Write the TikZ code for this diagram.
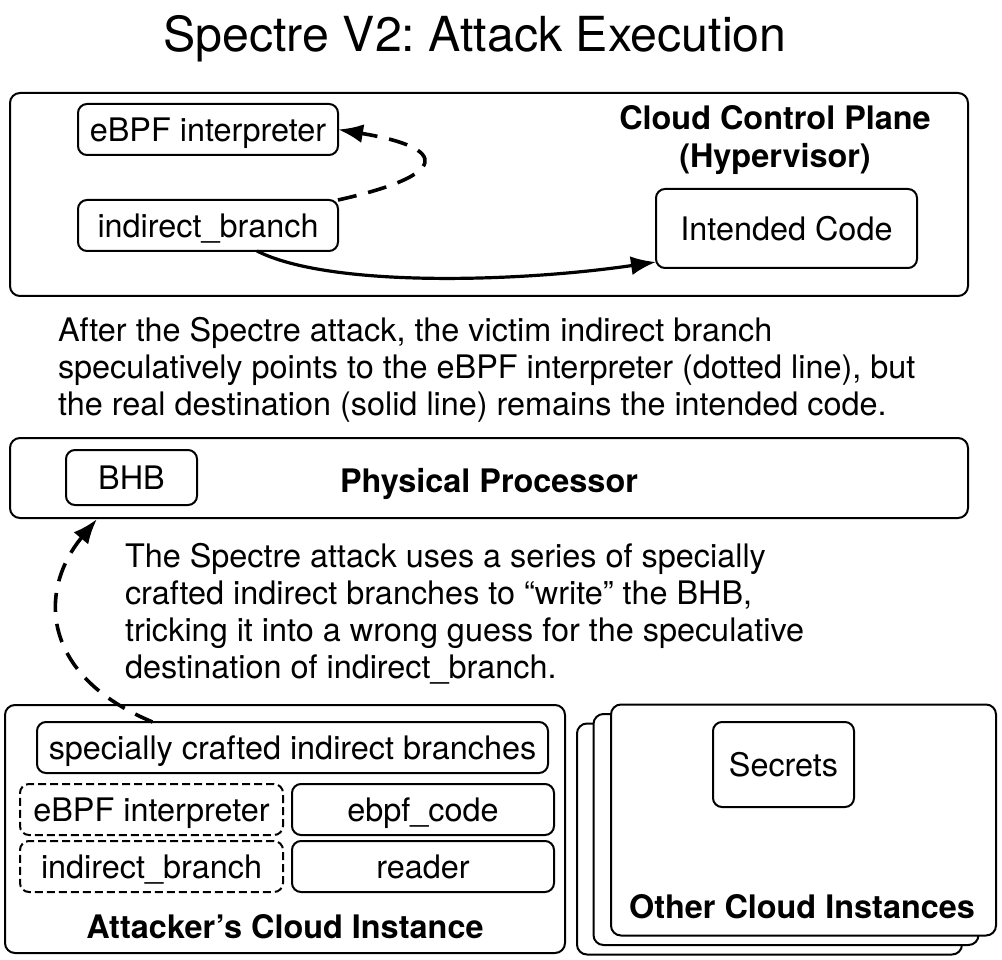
\documentclass[tikz,border=0pt]{standalone}
\usepackage{fontspec}
\setmainfont{TeX Gyre Heros}
\usetikzlibrary{arrows.meta,calc}
\frenchspacing
\begin{document}
\begin{tikzpicture}[x=1pt,y=-1pt,
  every node/.style={font=\fontsize{32.4}{37}\selectfont, inner sep=0pt, outer sep=0pt},
  frame/.style={draw, line width=2pt, rounded corners=10pt},
  item/.style={draw, line width=2pt, rounded corners=9pt, text height=23.2pt, text depth=0pt, align=center},
  ghost/.style={item, dash pattern=on 8pt off 4pt},
  lbl/.style={font=\fontsize{32.4}{38}\selectfont\bfseries, align=center},
  para/.style={align=left, anchor=base west},
  arr/.style={line width=3.2pt, -{Latex[length=25pt,width=19pt]}},
  darr/.style={arr, line width=3.6pt, dash pattern=on 19pt off 12pt},
]
\useasboundingbox (0,0) rectangle (1002,960);

\node[font=\fontsize{48.3}{50}\selectfont, anchor=base] (title) at (475,52) {Spectre V2: Attack Execution};

% Cloud control plane
\node[frame, minimum width=958pt, minimum height=203pt] (cloud) at (489,194.5) {};
\node[lbl, anchor=base] (cloudlbl) at (775,168) {Cloud Control Plane\\(Hypervisor)};
\node[item, minimum width=260pt, minimum height=51pt] (ebpfA) at (208,129.5) {eBPF interpreter};
\node[item, minimum width=260pt, minimum height=51pt] (ibA) at (208,225.5) {indirect\_branch};
\node[item, minimum width=261pt, minimum height=79pt] (intended) at (786.5,228.5) {Intended Code};

\coordinate (ibAsouth) at ($(ibA.south)+(49,0)$);
\coordinate (intIn) at ($(intended.west)+(0,33.5)$);
\draw[darr] (ibA.north east) .. controls (450,175) and (450,148) .. (ebpfA.east);
\draw[arr] (ibAsouth) .. controls (330,288) and (520,282) .. (intIn);

\node[para] (para1) at (58,415) {After the Spectre attack, the victim indirect branch\\speculatively points to the eBPF interpreter (dotted line), but\\the real destination (solid line) remains the intended code.};

% Physical processor
\node[frame, minimum width=958pt, minimum height=80pt] (proc) at (489,478) {};
\node[lbl, anchor=base] (proclbl) at (489,492) {Physical Processor};
\node[item, minimum width=131pt, minimum height=55pt] (bhb) at (131.5,477.5) {BHB};

\node[para] (para2) at (125,678) {The Spectre attack uses a series of specially\\crafted indirect branches to “write” the BHB,\\tricking it into a wrong guess for the speculative\\destination of indirect\_branch.};

% Attacker instance
\node[frame, minimum width=560pt, minimum height=248pt] (attacker) at (285,829) {};
\node[lbl, anchor=base] (attlbl) at (285,938) {Attacker’s Cloud Instance};
\node[item, minimum width=511pt, minimum height=51pt] (sci) at (292.5,747.5) {specially crafted indirect branches};
\node[ghost, minimum width=263pt, minimum height=51pt] (ebpfB) at (151.5,809.5) {eBPF interpreter};
\node[item, minimum width=262pt, minimum height=51pt] (code) at (423,809.5) {ebpf\_code};
\node[ghost, minimum width=263pt, minimum height=51pt] (ibB) at (151.5,866.5) {indirect\_branch};
\node[item, minimum width=262pt, minimum height=51pt] (reader) at (423,866.5) {reader};

\coordinate (sciTop) at ($(sci.north)+(-140,0)$);
\coordinate (bhbIn) at ($(bhb.south)+(-34.5,14)$);
\draw[darr] (sciTop) .. controls (40,675) and (38,590) .. (bhbIn);

% Other instances
\node[frame, fill=white, minimum width=385pt, minimum height=231pt] (oth3) at (769.5,839) {};
\node[frame, fill=white, minimum width=385pt, minimum height=231pt] (oth2) at (786,829.5) {};
\node[frame, fill=white, minimum width=385pt, minimum height=231pt] (oth1) at (803.5,820) {};
\node[item, minimum width=141pt, minimum height=85pt] (secrets) at (783.5,764.5) {Secrets};
\node[lbl, anchor=base] (othlbl) at (802,918) {Other Cloud Instances};
\end{tikzpicture}
\end{document}
